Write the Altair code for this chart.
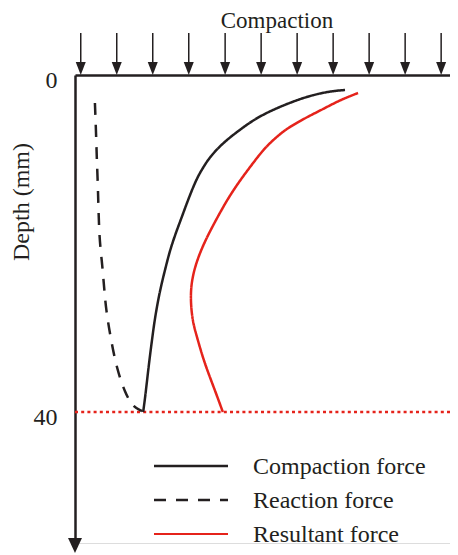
import altair as alt
import pandas as pd

# ---- data (force in arbitrary units, depth in mm) ----
series_names = ["Compaction force", "Reaction force", "Resultant force"]

comp_depth = [1.78, 1.93, 2.37, 2.97, 3.68, 4.51, 5.46, 6.65, 8.07, 9.73, 11.16,
              12.46, 14.84, 16.85, 18.40, 20.77, 23.15, 25.52, 28.72, 31.45,
              34.66, 37.98, 40.0]
comp_force = [70.5, 66.6, 62.1, 58.0, 54.0, 49.9, 46.2, 42.6, 38.6, 35.2, 33.2,
              31.6, 29.5, 27.9, 26.6, 24.8, 23.5, 22.2, 20.9, 20.1,
              19.2, 18.4, 17.8]

react_depth = [3.32, 6.88, 10.09, 13.29, 19.23, 21.96, 25.16, 27.89, 31.45, 35.01,
               37.74, 39.41, 39.88]
react_force = [5.2, 5.5, 5.7, 6.0, 6.3, 7.0, 7.6, 8.1, 9.4, 11.0, 13.1, 15.1, 17.5]

res_depth = [2.14, 2.97, 4.04, 4.99, 5.82, 6.53, 7.72, 8.90, 10.92, 12.82, 14.84,
             16.97, 18.75, 20.77, 22.79, 24.69, 26.35, 28.01, 29.56, 30.86,
             32.64, 34.66, 37.74, 40.0]
res_force = [73.9, 69.2, 64.8, 60.6, 57.4, 54.8, 51.7, 49.1, 45.7, 42.6, 39.7,
             37.1, 35.0, 32.9, 31.3, 30.4, 30.2, 30.4, 30.9, 31.7,
             32.8, 34.2, 36.8, 38.6]

boundary_depth = [40]
y_ticks = [0, 40]
arrow_x = [1.5, 10.9, 20.3, 29.7, 39.2, 48.6, 58.0, 67.4, 76.8, 86.2, 95.6]

top_label = "Compaction"
y_title = "Depth (mm)"

BLACK = "#231f20"
RED = "#e5231b"
FONT = "Liberation Serif"

W, H = 375, 468
X_DOMAIN = [0, W / 3.83]
Y_DOMAIN = [0, H / 8.425]

rows = []
for name, ds, fs in [(series_names[0], comp_depth, comp_force),
                     (series_names[1], react_depth, react_force),
                     (series_names[2], res_depth, res_force)]:
    for d, f in zip(ds, fs):
        rows.append({"series": name, "depth": d, "force": f})
df = pd.DataFrame(rows)

xs = alt.Scale(domain=X_DOMAIN, nice=False, zero=False)
ys = alt.Scale(domain=Y_DOMAIN, nice=False, zero=False, reverse=True)

x_enc = alt.X("force:Q", scale=xs,
              axis=alt.Axis(orient="top", labels=False, ticks=False, grid=False,
                            title=None, domainColor=BLACK, domainWidth=2.5))
y_enc = alt.Y("depth:Q", scale=ys,
              axis=alt.Axis(values=y_ticks, ticks=False, grid=False, title=None,
                            domainColor=BLACK, domainWidth=2.5,
                            labelFont=FONT, labelFontSize=24, labelColor=BLACK,
                            labelPadding=18, labelOffset=5))

lines = alt.Chart(df).mark_line(interpolate="basis").encode(
    x=x_enc,
    y=y_enc,
    order="depth:Q",
    color=alt.Color("series:N", scale=alt.Scale(domain=series_names,
                                                range=[BLACK, BLACK, RED]), legend=None),
    strokeDash=alt.StrokeDash("series:N", scale=alt.Scale(domain=series_names,
                                                          range=[[1, 0], [12, 10], [1, 0]]),
                              legend=None),
    strokeWidth=alt.StrokeWidth("series:N", scale=alt.Scale(domain=series_names,
                                                            range=[2.5, 2.5, 2.0]),
                                legend=None),
)

boundary = alt.Chart(pd.DataFrame({"depth": boundary_depth})).mark_rule(
    color=RED, strokeWidth=2.5, strokeDash=[3, 3.2]
).encode(y=alt.Y("depth:Q", scale=ys))

arrows_df = pd.DataFrame({"force": arrow_x})
shafts = alt.Chart(arrows_df).mark_rule(color=BLACK, strokeWidth=1.5).encode(
    x=alt.X("force:Q", scale=xs), y=alt.value(-42), y2=alt.value(-11))
heads = alt.Chart(arrows_df).mark_point(
    shape="M-0.77,-1L0.77,-1L0,1Z", filled=True, color=BLACK, opacity=1, size=169
).encode(x=alt.X("force:Q", scale=xs), y=alt.value(-6.5))

bottom_head = alt.Chart(pd.DataFrame({"force": [0]})).mark_point(
    shape="M-0.93,-1L0.93,-1L0,1Z", filled=True, color=BLACK, opacity=1, size=225
).encode(x=alt.X("force:Q", scale=xs), y=alt.value(H + 2.5))

top_text = alt.Chart(pd.DataFrame({"t": [top_label]})).mark_text(
    font=FONT, fontSize=23, color=BLACK, baseline="alphabetic", align="center"
).encode(text="t:N", x=alt.value(202), y=alt.value(-47))

ytitle = alt.Chart(pd.DataFrame({"t": [y_title]})).mark_text(
    font=FONT, fontSize=24, color=BLACK, baseline="middle", align="center", angle=270
).encode(text="t:N", x=alt.value(-53), y=alt.value(127))

# legend
leg_layers = []
leg_dash = [[1, 0], [12, 10], [1, 0]]
leg_col = [BLACK, BLACK, RED]
leg_w = [2.5, 2.5, 2.0]
for i, name in enumerate(series_names):
    yy = 391 + 34 * i
    leg_layers.append(
        alt.Chart(pd.DataFrame({"t": [name]})).mark_rule(
            color=leg_col[i], strokeWidth=leg_w[i], strokeDash=leg_dash[i]
        ).encode(x=alt.value(79), x2=alt.value(153), y=alt.value(yy))
    )
    leg_layers.append(
        alt.Chart(pd.DataFrame({"t": [name]})).mark_text(
            font=FONT, fontSize=24, color=BLACK, baseline="middle", align="left"
        ).encode(text="t:N", x=alt.value(178), y=alt.value(yy + 1))
    )

chart = alt.layer(
    boundary, lines, shafts, heads, bottom_head, top_text, ytitle, *leg_layers
).properties(
    width=W, height=H,
    autosize=alt.AutoSizeParams(type="none"),
    padding={"left": 67, "top": 67, "right": 0, "bottom": 12},
).configure_view(stroke=None).configure(background="white")

chart.save("out.html", embed_options={"renderer": "svg", "actions": False})
